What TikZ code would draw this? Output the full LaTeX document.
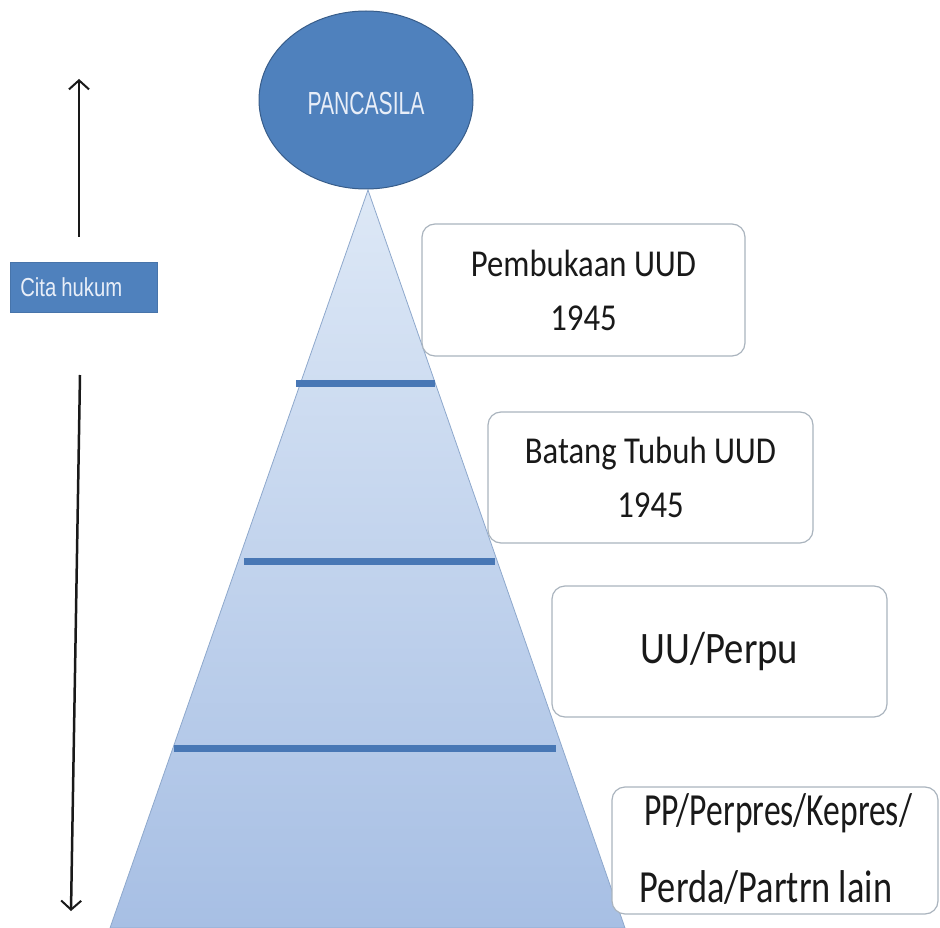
\documentclass[tikz,border=0pt]{standalone}
\usepackage{fontspec}
\setmainfont{Carlito}
\newfontfamily\boxfont[FakeStretch=0.86]{Carlito}
\newfontfamily\ppfont[FakeStretch=0.73]{Carlito}
\newfontfamily\ppfontb[FakeStretch=0.79]{Carlito}
\newfontfamily\citafont[FakeStretch=0.78]{Liberation Sans}
\newfontfamily\pancfont[FakeStretch=0.66]{Liberation Sans}
\usetikzlibrary{arrows.meta,shapes.geometric}
\definecolor{ovalBlue}{HTML}{4F81BD}
\definecolor{ovalEdge}{HTML}{385D8A}
\definecolor{barBlue}{HTML}{4877B5}
\definecolor{triTop}{HTML}{DDE8F6}
\definecolor{triBot}{HTML}{A7BFE4}
\definecolor{triEdge}{HTML}{8EA8CC}
\definecolor{boxEdge}{HTML}{AAB4BE}
\definecolor{lightText}{HTML}{E8EEF8}
\tikzset{
  levelbox/.style={draw=boxEdge, line width=1.2pt, fill=white, rounded corners=13pt,
    align=center, inner sep=0pt, text=black!90},
  pptext/.style={text=black!90, inner sep=0pt, anchor=base},
  levelbar/.style={draw=barBlue, line width=7pt},
  updown/.style={draw=black!90, line width=2.5pt, -{Straight Barb[length=9pt,width=20pt,line width=2pt]}}
}
\begin{document}
\begin{tikzpicture}[x=1pt,y=-1pt]
\useasboundingbox (0,0) rectangle (940,928);
% pyramid
\coordinate (apex) at (368,190);
\coordinate (bl) at (110,928);
\coordinate (br) at (625,928);
\path[top color=triTop, bottom color=triBot, draw=triEdge, line width=0.8pt]
  (apex) -- (br) -- (bl) -- cycle;
% level bars
\coordinate (b1l) at (296,383); \coordinate (b1r) at (435,383);
\coordinate (b2l) at (244,561); \coordinate (b2r) at (495,561);
\coordinate (b3l) at (174,748); \coordinate (b3r) at (556,748);
\draw[levelbar] (b1l) -- (b1r);
\draw[levelbar] (b2l) -- (b2r);
\draw[levelbar] (b3l) -- (b3r);
% top ellipse
\node[ellipse, fill=ovalBlue, draw=ovalEdge, line width=1pt, minimum width=214pt,
  minimum height=178pt, inner sep=0pt, text=lightText,
  font=\fontsize{32}{34}\pancfont] (pancasila) at (366,100)
  {\raisebox{-15pt}[0pt][0pt]{PANCASILA}};
% boxes
\node[levelbox, minimum width=323pt, minimum height=132pt,
  font=\fontsize{38}{54}\boxfont] (pembukaan) at (583.5,290)
  {Pembukaan UUD\\1945};
\node[levelbox, minimum width=325pt, minimum height=131pt,
  font=\fontsize{38}{54}\boxfont] (batang) at (650.5,477.5)
  {Batang Tubuh UUD\\1945};
\node[levelbox, minimum width=335pt, minimum height=131pt,
  font=\fontsize{45}{54}\boxfont] (uu) at (719.5,651.5)
  {UU/Perpu};
\node[levelbox, minimum width=326pt, minimum height=127pt] (pp) at (775,850.5) {};
\node[pptext, font=\fontsize{46}{50}\ppfont] (ppA) at (778,825) {PP/Perpres/Kepres/};
\node[pptext, font=\fontsize{46}{50}\ppfontb] (ppB) at (766,902) {Perda/Partrn lain};
% cita hukum
\node[fill=ovalBlue, draw=ovalBlue!90!black, line width=0.6pt, anchor=west,
  minimum height=50pt, text width=127pt, inner xsep=10pt, align=left,
  text=lightText, font=\fontsize{26}{28}\citafont] (cita) at (10,287)
  {Cita\hspace{5pt}hukum};
% arrows
\coordinate (upS) at (79,237);
\coordinate (upE) at (79,79);
\coordinate (dnS) at (80,375);
\coordinate (dnE) at (71,911);
\draw[updown] (upS) -- (upE);
\draw[updown] (dnS) -- (dnE);
\end{tikzpicture}
\end{document}
